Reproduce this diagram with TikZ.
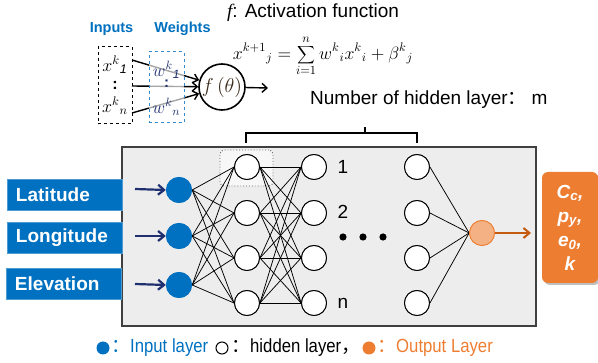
\documentclass[tikz,border=0pt]{standalone}
\usepackage{fontspec}
\setmainfont{Liberation Sans}
\newfontfamily\cjk{Noto Sans CJK SC}
\newfontfamily\narrowf{Liberation Sans}[FakeStretch=0.88]
\newfontfamily\seriff{Liberation Serif}
\usetikzlibrary{arrows.meta}
\definecolor{myblue}{HTML}{0070C0}
\definecolor{myorange}{HTML}{ED7D31}
\definecolor{darkorange}{HTML}{C55A11}
\definecolor{mynavy}{HTML}{1F2F6F}
\definecolor{boxgray}{HTML}{EDEDED}
\definecolor{mysalmon}{HTML}{F4B183}
\definecolor{fbrown}{HTML}{3B2A1A}
\begin{document}
\begin{tikzpicture}[x=1pt,y=-1pt,
  inbox/.style={fill=myblue, draw=myblue!70!white, minimum height=31pt, text width=97pt, inner xsep=9pt, inner ysep=0pt, text=white, font=\fontsize{19}{19}\selectfont\bfseries, align=left},
  innode/.style={circle, fill=myblue, minimum size=26pt, inner sep=0pt},
  hid/.style={circle, draw=black, fill=white, minimum size=25pt, inner sep=0pt, line width=0.9pt},
  outnode/.style={circle, draw=myorange, fill=mysalmon, minimum size=25pt, inner sep=0pt, line width=0.8pt},
  link/.style={line width=0.75pt, black},
  inarrow/.style={line width=2.2pt, mynavy, -{Straight Barb[length=6pt, width=10pt]}},
  lbl/.style={font=\fontsize{19}{19}\selectfont, inner sep=0pt},
  leg/.style={font=\narrowf\fontsize{19}{19}\selectfont, inner sep=0pt, anchor=west},
  topl/.style={font=\fontsize{14.5}{15}\selectfont\bfseries, text=myblue, inner sep=0pt},
  mathtxt/.style={inner sep=0pt, font=\fontsize{14.4}{16}\selectfont},
  nlink/.style={line width=1.4pt, -{Straight Barb[length=5pt, width=9pt]}}
]
\useasboundingbox (0,0) rectangle (598,363);

% ---------- top: single neuron ----------
\node[topl] (tin) at (111.5,29) {Inputs};
\node[topl] (twt) at (182.5,29) {Weights};
\node[lbl, anchor=west] (act) at (227,13) {{\seriff\itshape f}: Activation function};
\node[mathtxt] (formula) at (323,56)
  {\scalebox{1.24}{$\displaystyle x^{k+1}{}_{j} = \sum_{i=1}^{n} w^{k}{}_{i}x^{k}{}_{i} + \beta^{k}{}_{j}$}};

\node[draw=black, dashed, line width=1pt, minimum width=34pt, minimum height=77pt, inner sep=0pt] (xbox) at (115,85.5) {};
\node[mathtxt] (x1) at (115,65) {\scalebox{1.25}{$x^{k}{}_{\mathit{1}}$}};
\node[mathtxt, font=\fontsize{16}{16}\selectfont\bfseries] (xd) at (115,85) {:};
\node[mathtxt] (xn) at (115,106) {\scalebox{1.25}{$x^{k}{}_{n}$}};

\node[circle, draw=black, line width=1.6pt, minimum size=46pt, inner sep=0pt, fill=white, text=fbrown, font=\fontsize{14.4}{16}\selectfont] (fn) at (222,87) {\scalebox{1.4}{$f\,(\theta)$}};

\coordinate (l1) at (132,60);
\coordinate (l2) at (132,86);
\coordinate (l3) at (132,113);
\coordinate (fo) at (268,88);
\draw[nlink] (l1) -- (fn);
\draw[nlink] (l2) -- (fn);
\draw[nlink] (l3) -- (fn);
\draw[nlink] (fn) -- (fo);

\node[draw=myblue!80!white, dashed, line width=1pt, fill=white, fill opacity=0.65, minimum width=35pt, minimum height=71pt, inner sep=0pt] (wbox) at (166.5,87.5) {};
\node[mathtxt, text=mynavy] (w1) at (166.5,70) {\scalebox{1.2}{$w^{k}{}_{\mathit{1}}$}};
\node[mathtxt, text=mynavy, font=\fontsize{15}{15}\selectfont\bfseries] (wd) at (166.5,84) {:};
\node[mathtxt, text=mynavy] (wn) at (166.5,107) {\scalebox{1.2}{$w^{k}{}_{n}$}};

% ---------- hidden layer caption and bracket ----------
\node[lbl, anchor=west] (nhl) at (310,100) {Number of hidden layer{\cjk ：}\hspace{5pt}m};
\draw[line width=1.5pt] (246,143) -- (246,133) -- (417,133) -- (417,143);
\draw[line width=1.5pt] (365,133) -- (365,127);

% ---------- network box ----------
\node[draw=black!75, fill=boxgray, line width=1.1pt, minimum width=414pt, minimum height=179pt, inner sep=0pt] (netbox) at (329,236.5) {};
\node[draw=black!60, dotted, line width=0.9pt, rounded corners=4pt, fill=white!55!boxgray, minimum width=53pt, minimum height=36pt, inner sep=0pt] (sel) at (246.5,168) {};

% input labels
\node[inbox] (lat) at (64.5,194.5) {Latitude};
\node[inbox] (lon) at (64.5,238) {Longitude};
\node[inbox] (ele) at (63.5,284) {Elevation};

% input nodes
\node[innode] (i1) at (179,190) {};
\node[innode] (i2) at (179,236) {};
\node[innode] (i3) at (179,285) {};

\coordinate (a1) at (135,189);
\coordinate (a2) at (135,236);
\coordinate (a3) at (135,284);
\draw[inarrow] (a1) -- (i1.west);
\draw[inarrow] (a2) -- (i2.west);
\draw[inarrow] (a3) -- (i3.west);

% hidden layers
\foreach \j/\y in {1/167,2/213,3/258,4/303}{
  \node[hid] (h1\j) at (247,\y) {};
  \node[hid] (h2\j) at (314,\y) {};
  \node[hid] (h3\j) at (417,\y) {};
}
\node[outnode] (out) at (482,233) {};

\foreach \a in {1,2,3}{
  \foreach \b in {1,2,3,4}{
    \draw[link] (i\a.east) -- (h1\b.west);
  }
}
\foreach \a in {1,2,3,4}{
  \foreach \b in {1,2,3,4}{
    \draw[link] (h1\a.east) -- (h2\b.west);
  }
  \draw[link] (h3\a.east) -- (out.west);
}
% redraw nodes on top of links
\foreach \j/\y in {1/167,2/213,3/258,4/303}{
  \node[hid] at (247,\y) {};
  \node[hid] at (314,\y) {};
  \node[hid] at (417,\y) {};
}
\foreach \y in {190,236,285}{
  \node[innode] at (179,\y) {};
}
\node[outnode] at (482,233) {};

\node[lbl] (n1) at (343,167) {1};
\node[lbl] (n2) at (343,212) {2};
\node[lbl] (nn) at (343,303) {n};
\fill (343,237) circle (3.6pt);
\fill (363,237) circle (3.6pt);
\fill (383,237) circle (3.6pt);

% output
\fill[black!25, rounded corners=6pt] (544,174) rectangle (600,285);
\node[fill=myorange, rounded corners=6pt, minimum width=56pt, minimum height=111pt, inner sep=0pt, text=white, align=center, font=\fontsize{19}{24}\selectfont\bfseries\itshape] (obox) at (570,227.5)
  {C\textsubscript{c},\\p\textsubscript{y},\\e\textsubscript{0},\\k};
\coordinate (oa) at (531,233);
\draw[line width=2pt, darkorange, -{Straight Barb[length=6pt, width=10pt]}] (out.east) -- (oa);

% ---------- legend ----------
\node[circle, fill=myblue, minimum size=13pt, inner sep=0pt] (lb) at (103,348) {};
\node[leg, text=myblue] (lbt) at (111,348) {{\cjk ：}Input layer};
\node[circle, draw=black, line width=1pt, minimum size=12pt, inner sep=0pt] (lh) at (222,348) {};
\node[leg] (lht) at (231,348) {{\cjk ：}hidden layer{\cjk ，}};
\node[circle, fill=myorange, minimum size=13pt, inner sep=0pt] (lo) at (369,348) {};
\node[leg, text=myorange] (lot) at (377,348) {{\cjk ：}Output Layer};
\end{tikzpicture}
\end{document}
